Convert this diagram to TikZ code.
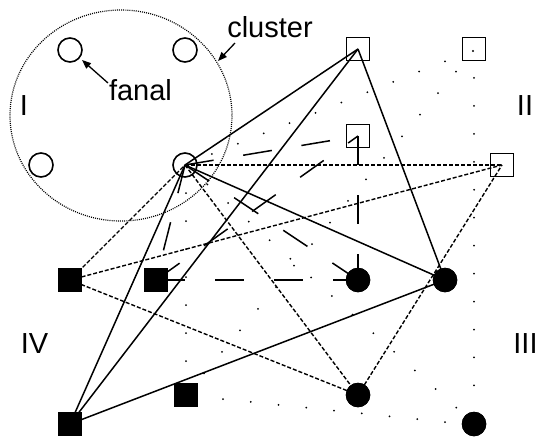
\documentclass[tikz,border=0pt]{standalone}
\usepackage{fontspec}
\setmainfont{Liberation Sans}
\usetikzlibrary{arrows.meta}
\begin{document}
\begin{tikzpicture}[x=1pt,y=-1pt,
  opencirc/.style={circle,draw,line width=1.6pt,minimum size=24pt,inner sep=0pt},
  opensq/.style={rectangle,draw,line width=1.6pt,minimum size=23pt,inner sep=0pt},
  fullsq/.style={rectangle,fill=black,minimum size=24.5pt,inner sep=0pt},
  fullcirc/.style={circle,fill=black,minimum size=24.5pt,inner sep=0pt},
  solidln/.style={line width=1.5pt},
  shortdash/.style={line width=1.4pt,dash pattern=on 4pt off 2pt},
  longdash/.style={line width=1.5pt,dash pattern=on 29pt off 30pt},
  lbl/.style={font=\fontsize{29}{33}\selectfont,inner sep=0pt,anchor=base},
  arr/.style={line width=1.3pt,-{Triangle[length=9pt,width=7pt]}},
  dotpt/.style={fill=black}]
\useasboundingbox (0,0) rectangle (538,437);
% cluster
\draw[line width=1.2pt,dash pattern=on 1pt off 1.1pt] (121,115.5) ellipse [x radius=111, y radius=105.5];
% open nodes
\node[opencirc] (C1) at (70,50) {};
\node[opencirc] (C2) at (185,50) {};
\node[opencirc] (C3) at (41,165) {};
\node[opencirc] (C4) at (185,165) {};
\node[opensq] (S1) at (358,49) {};
\node[opensq] (S2) at (474,49) {};
\node[opensq] (S3) at (358,136) {};
\node[opensq] (S4) at (502,165) {};
% dots
\foreach \k in {1,...,10} \fill[dotpt] ({186+25.9*\k},{164.3-10.3*\k}) circle (1pt);
\foreach \k in {1,...,13} \fill[dotpt] ({186.6+20.75*\k},{165.8+18.6*\k}) circle (1pt);
\foreach \k in {1,...,15} \fill[dotpt] ({186+18*\k},{395-21.56*\k}) circle (1pt);
\foreach \k in {1,...,7} \fill[dotpt] (186,{165+28*\k}) circle (1pt);
\foreach \k in {1,...,12} \fill[dotpt] (474,{50+27.95*\k}) circle (1pt);
\foreach \k in {0,...,8} \fill[dotpt] ({223+27.75*\k},{399+2.875*\k}) circle (1pt);
\fill[dotpt] (473,51) circle (1.1pt);
% filled nodes
\node[fullsq] (F1) at (70,280) {};
\node[fullsq] (F2) at (156,280) {};
\node[fullsq] (F3) at (186,395) {};
\node[fullsq] (F4) at (70,424) {};
\node[fullcirc] (D1) at (358,280) {};
\node[fullcirc] (D2) at (445,280) {};
\node[fullcirc] (D3) at (358,395) {};
\node[fullcirc] (D4) at (474,424) {};
% solid lines
\draw[solidln] (C4.center) -- (S1.center);
\draw[solidln] (F4.center) -- (S1.center);
\draw[solidln] (S1.center) -- (D2.center);
\draw[solidln] (C4.center) -- (D2.center);
\draw[solidln] (F4.center) -- (C4.center);
\draw[solidln] (F4.center) -- (D2.center);
% short dashed lines
\draw[shortdash] (C4.center) -- (S4.center);
\draw[shortdash] (F1.center) -- (S4.center);
\draw[shortdash] (F1.center) -- (C4.center);
\draw[shortdash] (F1.center) -- (D3.center);
\draw[shortdash] (C4.center) -- (D3.center);
\draw[shortdash] (D3.center) -- (S4.center);
% long dashed lines
\draw[longdash] (C4.center) -- (S3.center);
\draw[longdash] (F2.center) -- (S3.center);
\draw[longdash] (S3.center) -- (D1.center);
\draw[longdash] (C4.center) -- (D1.center);
\draw[longdash] (C4.center) -- (F2.center);
\draw[longdash] (F2.center) -- (D1.center);
% filled nodes on top of the connectors
\node[fullsq] at (F1) {};
\node[fullsq] at (F2) {};
\node[fullsq] at (F3) {};
\node[fullsq] at (F4) {};
\node[fullcirc] at (D1) {};
\node[fullcirc] at (D2) {};
\node[fullcirc] at (D3) {};
\node[fullcirc] at (D4) {};
% labels
\node[lbl] (fanal) at (140.5,100) {fanal};
\node[lbl] (cluster) at (270,37.5) {cluster};
\node[lbl] (lI) at (24,115) {I};
\node[lbl] (lII) at (525,115) {II};
\node[lbl] (lIII) at (525.5,353) {III};
\node[lbl] (lIV) at (34.5,353) {IV};
% arrows
\coordinate (fanaltail) at (108,83);
\coordinate (fanaltip) at (82,60);
\coordinate (clustertail) at (235,43);
\coordinate (clustertip) at (218,61);
\draw[arr] (fanaltail) -- (fanaltip);
\draw[arr] (clustertail) -- (clustertip);
\end{tikzpicture}
\end{document}
